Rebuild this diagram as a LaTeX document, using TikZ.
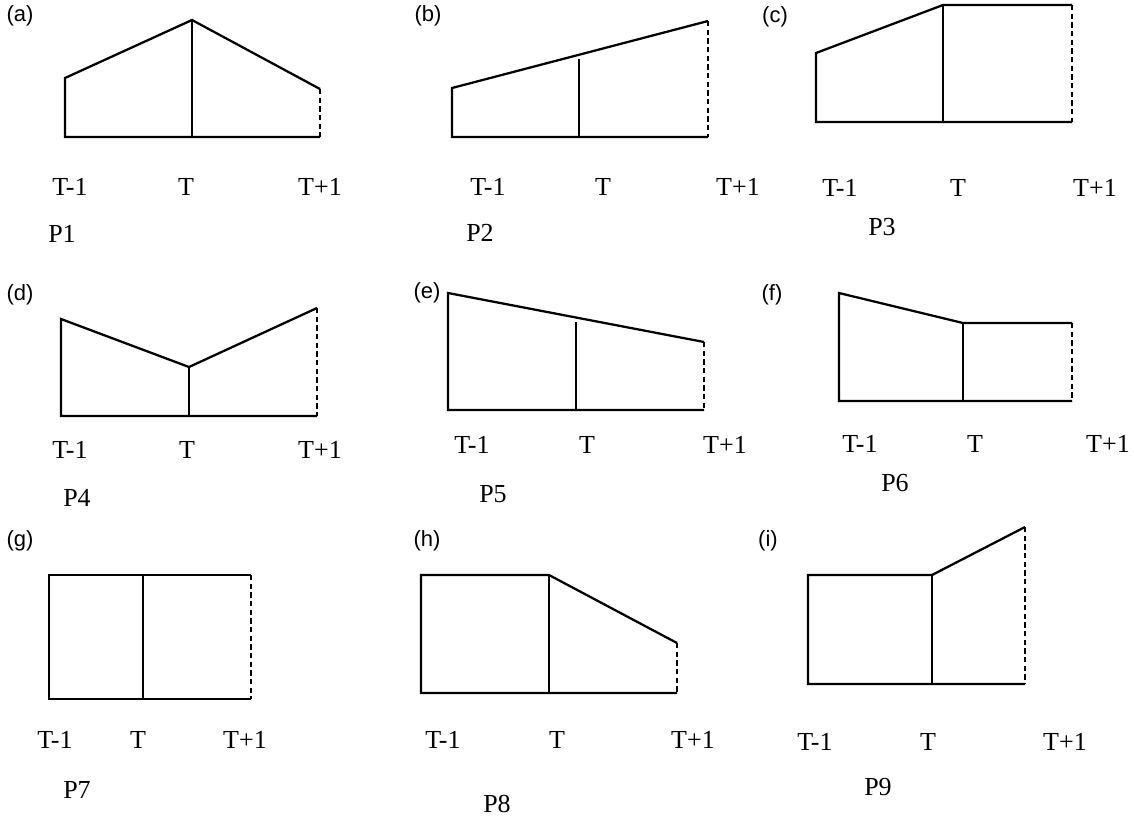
\documentclass[tikz,border=0pt]{standalone}
\usepackage{fontspec}
\setmainfont{Liberation Serif}
\newfontfamily\labfont{Liberation Sans}
\begin{document}
\begin{tikzpicture}[x=0.75pt,y=-0.75pt,
  shape line/.style={line width=1.7pt, line join=miter},
  mid line/.style={line width=1.6pt},
  dash line/.style={line width=1.6pt, dash pattern=on 4pt off 2.5pt},
  tlabel/.style={font=\fontsize{19.5}{22}\selectfont, inner sep=0pt, text depth=0pt},
  plabel/.style={font=\fontsize{19.5}{22}\selectfont, inner sep=0pt, text depth=0pt},
  panel/.style={font=\labfont\fontsize{16.5}{19}\selectfont, inner sep=0pt}]
\useasboundingbox (0,0) rectangle (1134,819);

% ---------- (a) P1 ----------
\node[panel] (la) at (20,16) {(a)};
\coordinate (a1) at (65,137); \coordinate (a2) at (65,78);
\coordinate (a3) at (192,20); \coordinate (a4) at (320,89);
\coordinate (a5) at (320,137); \coordinate (a6) at (192,137);
\draw[shape line] (a4) -- (a3) -- (a2) -- (a1) -- (a5);
\draw[mid line] (a3) -- (a6);
\draw[dash line] (a4) -- (a5);
\node[tlabel] (ta1) at (70,187) {T-1};
\node[tlabel] (ta2) at (186,187) {T};
\node[tlabel] (ta3) at (320,187) {T+1};
\node[plabel] (pa) at (62,234) {P1};

% ---------- (b) P2 ----------
\node[panel] (lb) at (428,16) {(b)};
\coordinate (b1) at (452,137); \coordinate (b2) at (452,88);
\coordinate (b3) at (708,21); \coordinate (b4) at (708,137);
\coordinate (b5) at (579,59); \coordinate (b6) at (579,137);
\draw[shape line] (b3) -- (b2) -- (b1) -- (b4);
\draw[mid line] (b5) -- (b6);
\draw[dash line] (b3) -- (b4);
\node[tlabel] (tb1) at (488,187) {T-1};
\node[tlabel] (tb2) at (603,187) {T};
\node[tlabel] (tb3) at (738,187) {T+1};
\node[plabel] (pb) at (480,233) {P2};

% ---------- (c) P3 ----------
\node[panel] (lc) at (775,17) {(c)};
\coordinate (c1) at (816,122); \coordinate (c2) at (816,53);
\coordinate (c3) at (943,5); \coordinate (c4) at (1072,5);
\coordinate (c5) at (1072,122); \coordinate (c6) at (943,122);
\draw[shape line] (c4) -- (c3) -- (c2) -- (c1) -- (c5);
\draw[mid line] (c3) -- (c6);
\draw[dash line] (c4) -- (c5);
\node[tlabel] (tc1) at (840,188) {T-1};
\node[tlabel] (tc2) at (958,188) {T};
\node[tlabel] (tc3) at (1095,188) {T+1};
\node[plabel] (pc) at (882,227) {P3};

% ---------- (d) P4 ----------
\node[panel] (ld) at (20,295) {(d)};
\coordinate (d1) at (61,416); \coordinate (d2) at (61,319);
\coordinate (d3) at (189,367); \coordinate (d4) at (317,308);
\coordinate (d5) at (317,416); \coordinate (d6) at (189,416);
\draw[shape line] (d4) -- (d3) -- (d2) -- (d1) -- (d5);
\draw[mid line] (d3) -- (d6);
\draw[dash line] (d4) -- (d5);
\node[tlabel] (td1) at (70,450) {T-1};
\node[tlabel] (td2) at (187,450) {T};
\node[tlabel] (td3) at (320,450) {T+1};
\node[plabel] (pd) at (77,498) {P4};

% ---------- (e) P5 ----------
\node[panel] (le) at (427,293) {(e)};
\coordinate (e1) at (448,410); \coordinate (e2) at (448,293);
\coordinate (e3) at (704,342); \coordinate (e4) at (704,410);
\coordinate (e5) at (576,322); \coordinate (e6) at (576,410);
\draw[shape line] (e3) -- (e2) -- (e1) -- (e4);
\draw[mid line] (e5) -- (e6);
\draw[dash line] (e3) -- (e4);
\node[tlabel] (te1) at (472,445) {T-1};
\node[tlabel] (te2) at (587,445) {T};
\node[tlabel] (te3) at (725,445) {T+1};
\node[plabel] (pe) at (493,494) {P5};

% ---------- (f) P6 ----------
\node[panel] (lf) at (772,295) {(f)};
\coordinate (f1) at (839,401); \coordinate (f2) at (839,293);
\coordinate (f3) at (963,323); \coordinate (f4) at (1072,323);
\coordinate (f5) at (1072,401); \coordinate (f6) at (963,401);
\draw[shape line] (f4) -- (f3) -- (f2) -- (f1) -- (f5);
\draw[mid line] (f3) -- (f6);
\draw[dash line] (f4) -- (f5);
\node[tlabel] (tf1) at (860,444) {T-1};
\node[tlabel] (tf2) at (975,444) {T};
\node[tlabel] (tf3) at (1108,444) {T+1};
\node[plabel] (pf) at (895,483) {P6};

% ---------- (g) P7 ----------
\node[panel] (lg) at (20,541) {(g)};
\coordinate (g1) at (49,699); \coordinate (g2) at (49,575);
\coordinate (g3) at (143,575); \coordinate (g4) at (251,575);
\coordinate (g5) at (251,699); \coordinate (g6) at (143,699);
\draw[shape line] (g4) -- (g3) -- (g2) -- (g1) -- (g5);
\draw[mid line] (g3) -- (g6);
\draw[dash line] (g4) -- (g5);
\node[tlabel] (tg1) at (55,740) {T-1};
\node[tlabel] (tg2) at (138,740) {T};
\node[tlabel] (tg3) at (245,740) {T+1};
\node[plabel] (pg) at (77,790) {P7};

% ---------- (h) P8 ----------
\node[panel] (lh) at (427,541) {(h)};
\coordinate (h1) at (421,693); \coordinate (h2) at (421,575);
\coordinate (h3) at (549,575); \coordinate (h4) at (677,643);
\coordinate (h5) at (677,693); \coordinate (h6) at (549,693);
\draw[shape line] (h4) -- (h3) -- (h2) -- (h1) -- (h5);
\draw[mid line] (h3) -- (h6);
\draw[dash line] (h4) -- (h5);
\node[tlabel] (th1) at (443,740) {T-1};
\node[tlabel] (th2) at (557,740) {T};
\node[tlabel] (th3) at (693,740) {T+1};
\node[plabel] (ph) at (497,804) {P8};

% ---------- (i) P9 ----------
\node[panel] (li) at (768,541) {(i)};
\coordinate (i1) at (808,684); \coordinate (i2) at (808,575);
\coordinate (i3) at (932,575); \coordinate (i4) at (1025,527);
\coordinate (i5) at (1025,684); \coordinate (i6) at (932,684);
\draw[shape line] (i4) -- (i3) -- (i2) -- (i1) -- (i5);
\draw[mid line] (i3) -- (i6);
\draw[dash line] (i4) -- (i5);
\node[tlabel] (ti1) at (815,742) {T-1};
\node[tlabel] (ti2) at (928,742) {T};
\node[tlabel] (ti3) at (1065,742) {T+1};
\node[plabel] (pi) at (878,787) {P9};
\end{tikzpicture}
\end{document}
